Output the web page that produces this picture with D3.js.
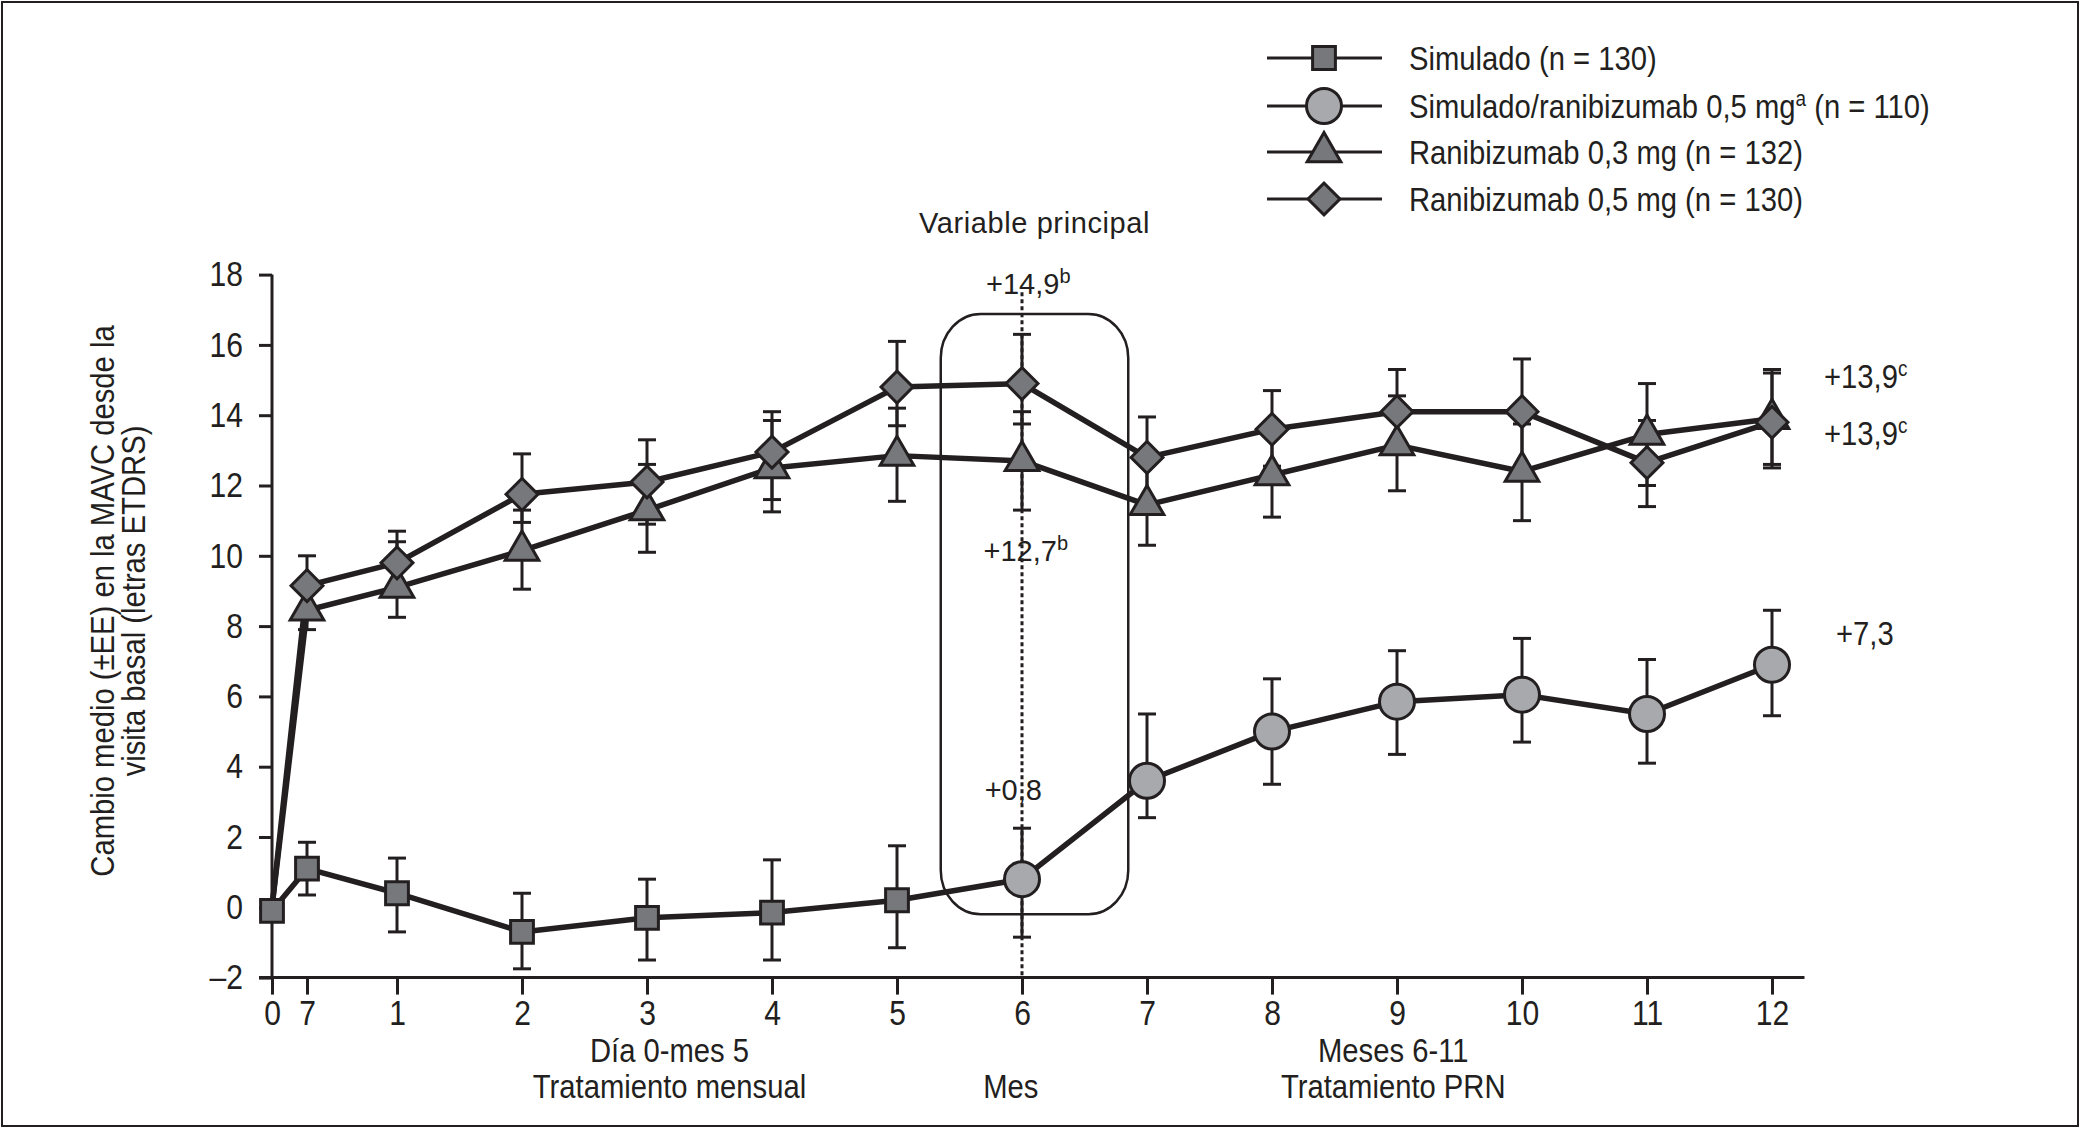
<!DOCTYPE html>
<html>
<head>
<meta charset="utf-8">
<script src="https://cdn.jsdelivr.net/npm/d3@7"></script>
<style>
  html, body { margin: 0; padding: 0; background: #fff; }
  svg text { font-family: 'Liberation Sans', Arial, 'DejaVu Sans', sans-serif; fill: #231f20; }
</style>
</head>
<body>
<div id="chart"></div>
<script>
// ---- data ----
const xTickValues = [0, 0.28, 1, 2, 3, 4, 5, 6, 7, 8, 9, 10, 11, 12];
const xTickLabels = ["0", "7", "1", "2", "3", "4", "5", "6", "7", "8", "9", "10", "11", "12"];
const yTickValues = [-2, 0, 2, 4, 6, 8, 10, 12, 14, 16, 18];

// Simulado (sham), día 0 - mes 5
const shamX  = [0, 0.28, 1, 2, 3, 4, 5];
const shamY  = [-0.1, 1.1, 0.4, -0.7, -0.3, -0.15, 0.2];
const shamLo = [null, 0.35, -0.7, -1.75, -1.5, -1.5, -1.15];
const shamHi = [null, 1.85, 1.4, 0.4, 0.8, 1.35, 1.75];

// Simulado/ranibizumab 0,5 mg, meses 6-12
const crossX  = [6, 7, 8, 9, 10, 11, 12];
const crossY  = [0.8, 3.6, 5.0, 5.85, 6.05, 5.5, 6.9];
const crossLo = [-0.85, 2.55, 3.5, 4.35, 4.7, 4.1, 5.45];
const crossHi = [2.25, 5.5, 6.5, 7.3, 7.65, 7.05, 8.45];

// Ranibizumab 0,3 mg and 0,5 mg
const ranX   = [0, 0.28, 1, 2, 3, 4, 5, 6, 7, 8, 9, 10, 11, 12];
const r03Y   = [0, 8.45, 9.1, 10.15, 11.3, 12.5, 12.85, 12.7, 11.45, 12.3, 13.15, 12.4, 13.45, 13.9];
const r03Lo  = [null, 7.9, 8.25, 9.05, 10.1, 11.25, 11.55, 11.3, 10.3, 11.1, 11.85, 11.0, 12.0, 12.6];
const r03Hi  = [null, 9.0, 10.4, 11.3, 12.6, 13.85, 14.2, 14.1, 12.6, 13.5, 14.55, 13.75, 14.9, 15.3];
const r05Y   = [0, 9.15, 9.8, 11.75, 12.1, 12.95, 14.8, 14.9, 12.8, 13.6, 14.1, 14.1, 12.65, 13.8];
const r05Lo  = [null, 8.3, 8.9, 10.95, 10.9, 11.6, 13.7, 13.75, 11.6, 12.55, 12.9, 12.55, 11.4, 12.5];
const r05Hi  = [null, 10.0, 10.7, 12.9, 13.3, 14.1, 16.1, 16.3, 13.95, 14.7, 15.3, 15.6, 13.85, 15.2];

const legendLabels = ["Simulado (n = 130)", "Simulado/ranibizumab 0,5 mg", "Ranibizumab 0,3 mg (n = 132)", "Ranibizumab 0,5 mg (n = 130)"];

// ---- layout ----
const width = 2080, height = 1128;
const ink = "#231f20", darkFill = "#77787b", lightFill = "#a7a9ac";
const narrow = 0.86; // horizontal squeeze to mimic a condensed face

const x = d3.scaleLinear().domain([0, 12]).range([272, 1772]);
const y = d3.scaleLinear().domain([-2, 18]).range([977.6, 274.6]);

const svg = d3.select("#chart").append("svg")
  .attr("width", width).attr("height", height)
  .attr("viewBox", [0, 0, width, height]);

// turn x/y of a text into a translate + horizontal squeeze
function condense(sel, extra) {
  sel.each(function () {
    const t = d3.select(this);
    const tx = +t.attr("x") || 0, ty = +t.attr("y") || 0;
    t.attr("x", null).attr("y", null)
      .attr("transform", `translate(${tx},${ty})` + (extra || "") + ` scale(${narrow},1)`);
  });
}

// thin frame round the figure
svg.append("rect").attr("x", 2).attr("y", 2).attr("width", width - 4).attr("height", height - 4)
  .attr("fill", "none").attr("stroke", ink).attr("stroke-width", 2);

// ---- axes ----
const yAxis = svg.append("g").attr("transform", `translate(${x(0)},0)`)
  .call(d3.axisLeft(y).tickValues(yTickValues).tickSize(13).tickPadding(16)
    .tickFormat(d => d < 0 ? "\u2013" + Math.abs(d) : d));
const xAxis = svg.append("g").attr("transform", `translate(0,${y(-2)})`)
  .call(d3.axisBottom(x).tickValues(xTickValues).tickSize(17).tickPadding(6)
    .tickFormat((d, i) => xTickLabels[i]));
[yAxis, xAxis].forEach(g => {
  g.select(".domain").remove();
  g.selectAll(".tick line").attr("stroke", ink).attr("stroke-width", 3);
  g.selectAll(".tick text").attr("font-size", 35).attr("fill", ink).call(condense);
});
svg.append("line").attr("x1", x(0)).attr("x2", x(0)).attr("y1", y(-2)).attr("y2", y(18))
  .attr("stroke", ink).attr("stroke-width", 3);
svg.append("line").attr("x1", x(0) - 13).attr("x2", x(12.26)).attr("y1", y(-2)).attr("y2", y(-2))
  .attr("stroke", ink).attr("stroke-width", 3);

// y axis title
const yt = svg.append("text").attr("text-anchor", "middle").attr("font-size", 34)
  .attr("x", 114).attr("y", 601);
yt.append("tspan").attr("x", 0).attr("dy", 0).text("Cambio medio (\u00b1EE) en la MAVC desde la");
yt.append("tspan").attr("x", 0).attr("dy", 31).text("visita basal (letras ETDRS)");
condense(yt, " rotate(-90)");

// x axis captions
const captions = [
  { t: "D\u00eda 0-mes 5", x: 3.18, y: 1062 },
  { t: "Tratamiento mensual", x: 3.18, y: 1098 },
  { t: "Mes", x: 5.91, y: 1098 },
  { t: "Meses 6-11", x: 8.97, y: 1062 },
  { t: "Tratamiento PRN", x: 8.97, y: 1098 }
];
svg.selectAll(".caption").data(captions).enter().append("text")
  .attr("class", "caption").attr("x", d => x(d.x)).attr("y", d => d.y)
  .attr("text-anchor", "middle").attr("font-size", 34).text(d => d.t)
  .call(condense);

// ---- primary endpoint box ----
svg.append("rect")
  .attr("x", x(5.35)).attr("y", y(16.88))
  .attr("width", x(6.85) - x(5.35)).attr("height", y(-0.2) - y(16.88))
  .attr("rx", 40).attr("ry", 44)
  .attr("fill", "none").attr("stroke", ink).attr("stroke-width", 2.5);
svg.append("line").attr("x1", x(6)).attr("x2", x(6)).attr("y1", y(17.5)).attr("y2", y(-2))
  .attr("stroke", ink).attr("stroke-width", 3).attr("stroke-dasharray", "4,3");

// ---- series ----
const line = d3.line().x(d => x(d[0])).y(d => y(d[1]));
const zip = (xs, ys, los, his) => xs.map((v, i) => ({ x: v, y: ys[i], lo: los[i], hi: his[i] }));

const sham = zip(shamX, shamY, shamLo, shamHi);
const cross = zip(crossX, crossY, crossLo, crossHi);
const r03 = zip(ranX, r03Y, r03Lo, r03Hi);
const r05 = zip(ranX, r05Y, r05Lo, r05Hi);

function errorBars(data) {
  const g = svg.append("g").attr("stroke", ink).attr("stroke-width", 3);
  const d = data.filter(p => p.lo !== null);
  g.selectAll(".v").data(d).enter().append("line")
    .attr("x1", p => x(p.x)).attr("x2", p => x(p.x)).attr("y1", p => y(p.lo)).attr("y2", p => y(p.hi));
  ["lo", "hi"].forEach(k => {
    g.selectAll(".c" + k).data(d).enter().append("line")
      .attr("x1", p => x(p.x) - 9).attr("x2", p => x(p.x) + 9)
      .attr("y1", p => y(p[k])).attr("y2", p => y(p[k]));
  });
}
[sham, cross, r03, r05].forEach(errorBars);

function drawLine(data) {
  svg.append("path").datum(data.map(p => [p.x, p.y]))
    .attr("d", line).attr("fill", "none").attr("stroke", ink).attr("stroke-width", 5.5)
    .attr("stroke-linejoin", "round");
}
drawLine(sham.concat(cross));
drawLine(r03);
drawLine(r05);

const shapes = {
  square: d3.symbol().type(d3.symbolSquare).size(520),
  circle: d3.symbol().type(d3.symbolCircle).size(Math.PI * 17.5 * 17.5),
  triangle: d3.symbol().type(d3.symbolTriangle).size(490),
  diamond: d3.symbol().type(d3.symbolSquare).size(510)
};
function markers(data, shape, fill, rot) {
  svg.append("g").selectAll("path").data(data).enter().append("path")
    .attr("d", shapes[shape])
    .attr("transform", p => `translate(${x(p.x)},${y(p.y)})` + (rot ? " rotate(45)" : ""))
    .attr("fill", fill).attr("stroke", ink).attr("stroke-width", 3);
}
markers(r03.filter(p => p.x > 0), "triangle", darkFill);
markers(r05.filter(p => p.x > 0), "diamond", darkFill, true);
markers(sham, "square", darkFill);
markers(cross, "circle", lightFill);

// ---- value annotations ----
svg.append("text").attr("x", x(6.1)).attr("y", 233)
  .attr("text-anchor", "middle").attr("font-size", 29).attr("letter-spacing", 0.6).text("Variable principal");
const wideNotes = [
  { t: "+14,9", s: "b", x: 6.05, y: 294 },
  { t: "+12,7", s: "b", x: 6.03, y: 561 },
  { t: "+0,8", s: "", x: 5.93, y: 800 }
];
wideNotes.forEach(n => {
  const t = svg.append("text").attr("x", x(n.x)).attr("y", n.y)
    .attr("text-anchor", "middle").attr("font-size", 29).text(n.t);
  if (n.s) t.append("tspan").attr("font-size", 20).attr("dy", -11).text(n.s);
});
const endNotes = [
  { t: "+13,9", s: "c", y: 388 },
  { t: "+13,9", s: "c", y: 445 },
  { t: "+7,3", s: "", y: 645 }
];
endNotes.forEach((n, i) => {
  const t = svg.append("text").attr("x", i === 2 ? 1836 : 1824).attr("y", n.y).attr("font-size", 34).text(n.t);
  if (n.s) t.append("tspan").attr("font-size", 22).attr("dy", -12).text(n.s);
  condense(t);
});

// ---- legend ----
const legendRows = [
  { label: legendLabels[0], shape: "square", fill: darkFill, sup: "" },
  { label: legendLabels[1], shape: "circle", fill: lightFill, sup: "a", tail: " (n = 110)" },
  { label: legendLabels[2], shape: "triangle", fill: darkFill, sup: "" },
  { label: legendLabels[3], shape: "diamond", fill: darkFill, sup: "" }
];
const legendY = [58, 106, 152, 199];
const lg = svg.append("g");
legendRows.forEach((r, i) => {
  const ry = legendY[i];
  lg.append("line").attr("x1", 1267).attr("x2", 1382).attr("y1", ry).attr("y2", ry)
    .attr("stroke", ink).attr("stroke-width", 3);
  lg.append("path").attr("d", shapes[r.shape])
    .attr("transform", `translate(1324,${ry})` + (r.shape === "diamond" ? " rotate(45)" : ""))
    .attr("fill", r.fill).attr("stroke", ink).attr("stroke-width", 3);
  const t = lg.append("text").attr("x", 1409).attr("y", ry + 12).attr("font-size", 34).text(r.label);
  if (r.sup) {
    t.append("tspan").attr("font-size", 22).attr("dy", -12).text(r.sup);
    t.append("tspan").attr("dy", 12).text(r.tail);
  }
  condense(t);
});
</script>
</body>
</html>
